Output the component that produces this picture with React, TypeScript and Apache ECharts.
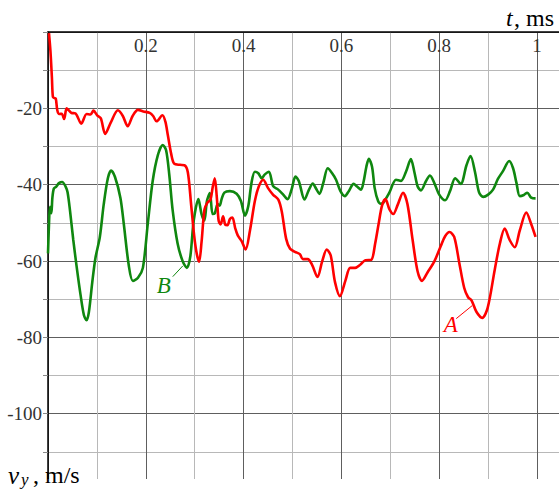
import { useEffect, useRef } from 'react';
import * as echarts from 'echarts';

const W = 559;
const H = 490;
const FONT = 'Liberation Serif, DejaVu Serif, serif';

// Curve A (red): time (ms) and v_y (m/s)
const tA = [0.002, 0.005, 0.008, 0.010, 0.013, 0.016, 0.019, 0.023, 0.028, 0.033, 0.038, 0.043, 0.048, 0.056, 0.068, 0.079, 0.087, 0.093, 0.101, 0.108, 0.117, 0.128, 0.143, 0.153, 0.163, 0.173, 0.184, 0.195, 0.208, 0.215, 0.222, 0.234, 0.240, 0.245, 0.252, 0.258, 0.270, 0.279, 0.286, 0.2925, 0.299, 0.304, 0.309, 0.314, 0.320, 0.326, 0.332, 0.337, 0.341, 0.345, 0.349, 0.353, 0.358, 0.3625, 0.367, 0.372, 0.377, 0.383, 0.388, 0.396, 0.404, 0.413, 0.423, 0.431, 0.440, 0.450, 0.460, 0.471, 0.478, 0.487, 0.495, 0.505, 0.515, 0.521, 0.531, 0.540, 0.551, 0.5606, 0.570, 0.578, 0.587, 0.597, 0.608, 0.618, 0.628, 0.639, 0.649, 0.661, 0.669, 0.676, 0.683, 0.690, 0.698, 0.706, 0.715, 0.726, 0.735, 0.7456, 0.7557, 0.7646, 0.776, 0.790, 0.8034, 0.812, 0.821, 0.8306, 0.841, 0.851, 0.859, 0.866, 0.876, 0.888, 0.899, 0.9136, 0.924, 0.934, 0.944, 0.9545, 0.9647, 0.978, 0.988, 0.997];
const vA = [-0.3, -5, -12, -17, -17.3, -17.5, -20.5, -21.5, -21.4, -22.8, -20.0, -20.6, -21.2, -21.3, -24.0, -21.5, -21.6, -20.6, -21.9, -22.6, -26.7, -23.8, -20.5, -22.0, -24.7, -22.0, -20.4, -20.8, -21.2, -22.0, -23.4, -21.8, -23.5, -27, -32, -34.5, -34.8, -34.9, -36.8, -45, -53.5, -58, -60.2, -55, -46.5, -44.7, -44, -40.5, -38.3, -43, -49.5, -50.4, -48.3, -50.5, -50.6, -49, -48.6, -51.5, -53.3, -54.8, -57, -52, -44.3, -40.5, -38.7, -40.9, -42.6, -43.9, -47, -54.2, -56.8, -57.6, -58.2, -59.5, -59.5, -61, -64.2, -60.1, -57, -58.5, -65.6, -69.2, -65.2, -61.8, -61.8, -60.9, -59.8, -59.7, -55.4, -50.3, -45.5, -43.8, -46.4, -47.7, -45.3, -42.1, -45.1, -54.5, -62.7, -65.2, -63, -60.1, -56, -53.5, -52.4, -53.7, -60.5, -67, -69.5, -70.3, -73.3, -74.9, -72.3, -62.2, -55.4, -51.5, -54.5, -56.4, -52, -47.3, -50.3, -53.7];

// Curve B (green)
const tB = [0.000, 0.002, 0.004, 0.0068, 0.009, 0.012, 0.017, 0.0225, 0.029, 0.036, 0.040, 0.045, 0.0517, 0.0585, 0.0667, 0.0735, 0.079, 0.0837, 0.0905, 0.097, 0.106, 0.114, 0.1224, 0.129, 0.137, 0.148, 0.155, 0.165, 0.1735, 0.184, 0.194, 0.204, 0.214, 0.2245, 0.2347, 0.2415, 0.248, 0.255, 0.265, 0.2755, 0.284, 0.291, 0.298, 0.3075, 0.314, 0.3197, 0.325, 0.331, 0.3365, 0.341, 0.347, 0.351, 0.355, 0.3606, 0.372, 0.3857, 0.3945, 0.4027, 0.4096, 0.416, 0.423, 0.430, 0.4367, 0.4435, 0.4517, 0.4605, 0.4707, 0.481, 0.4898, 0.498, 0.506, 0.513, 0.5245, 0.533, 0.5415, 0.548, 0.555, 0.563, 0.572, 0.581, 0.589, 0.598, 0.607, 0.615, 0.625, 0.632, 0.640, 0.6455, 0.651, 0.656, 0.6626, 0.668, 0.675, 0.6806, 0.6857, 0.698, 0.7116, 0.7218, 0.732, 0.742, 0.749, 0.7557, 0.7626, 0.7728, 0.781, 0.790, 0.800, 0.812, 0.822, 0.8327, 0.844, 0.8557, 0.864, 0.873, 0.8816, 0.890, 0.900, 0.910, 0.920, 0.9306, 0.943, 0.951, 0.958, 0.9647, 0.973, 0.980, 0.988, 0.997];
const vB = [-58, -50.5, -45.8, -47.5, -43.4, -41, -40.5, -39.6, -39.3, -40.5, -42, -46.8, -54.5, -61.4, -69, -74.2, -75.5, -73.3, -65.6, -59.2, -53.7, -45.1, -38.3, -36.3, -38, -43.4, -50.3, -61, -65.2, -64.4, -61.8, -50.3, -39.1, -32.3, -29.6, -31, -37.4, -46.8, -55.4, -60.1, -61.8, -58.8, -49.4, -43.8, -47.7, -49.4, -44.3, -42.2, -47.7, -47.5, -45.1, -45.5, -43.8, -42.1, -41.7, -42.4, -44.3, -48.1, -45.6, -39.6, -36.6, -37, -38.3, -37.3, -36.6, -40.4, -41.3, -42.6, -43.8, -41.3, -37.9, -39.1, -43.9, -41.5, -39.7, -41, -42.4, -39.5, -35.7, -37, -38.7, -41.7, -43, -41.7, -39.8, -40.5, -41.3, -39.1, -35.3, -33.2, -35.3, -40.9, -44.3, -45, -44.7, -42.1, -38.7, -39, -36.6, -33.3, -36.6, -40.4, -41.5, -39.1, -37.6, -39.6, -42.6, -44.1, -41.7, -38.3, -39.8, -34.9, -32.5, -36.6, -42.1, -43.2, -42.6, -41.3, -38.5, -36.4, -33.8, -35.7, -39.6, -43, -42.7, -42.1, -43.4, -43.6];

// Tick labels
const xLabelValues = [0.2, 0.4, 0.6, 0.8, 1];
const xLabelTexts = ['0.2', '0.4', '0.6', '0.8', '1'];
const yLabelValues = [-20, -40, -60, -80, -100];
const yLabelTexts = ['-20', '-40', '-60', '-80', '-100'];

// Annotation anchors (data space)
const labelA = { text: 'A', at: [0.8235, -76.7], lead: [[0.8347, -75.1], [0.8673, -71.7]] };
const labelB = { text: 'B', at: [0.2367, -66.4], lead: [[0.2551, -64.1], [0.2755, -61.3]] };

const zip = (t: number[], v: number[]) => t.map((x, i) => [x, v[i]]);

const findLabel = (vals: number[], texts: string[], value: number) => {
  const i = vals.findIndex((x) => Math.abs(x - value) < 1e-6);
  return i >= 0 ? texts[i] : '';
};

const RED = '#ff0000';
const GREEN = '#0f870f';
const MAJOR = '#5e5e5e';
const MINOR = '#b8b8b8';

function annotation(lbl: typeof labelA, color: string) {
  return {
    markLine: {
      silent: true,
      symbol: ['none', 'none'],
      label: { show: false },
      lineStyle: { color, width: 1, type: 'solid' },
      data: [[{ coord: lbl.lead[0] }, { coord: lbl.lead[1] }]],
    },
    markPoint: {
      silent: true,
      symbol: 'circle',
      symbolSize: 1,
      itemStyle: { color: 'rgba(0,0,0,0)' },
      data: [
        {
          coord: lbl.at,
          label: {
            show: true,
            position: 'inside',
            formatter: lbl.text,
            fontFamily: FONT,
            fontStyle: 'italic',
            fontSize: 23,
            color,
          },
        },
      ],
    },
  };
}

export default function App() {
  const ref = useRef<HTMLDivElement>(null);
  useEffect(() => {
    const chart = echarts.init(ref.current!, null, { renderer: 'svg', width: W, height: H });
    const option: any = {
      animation: false,
      backgroundColor: '#ffffff',
      textStyle: { fontFamily: FONT },
      grid: { left: 48, top: 32, width: 512, height: 468, containLabel: false },
      xAxis: {
        type: 'value',
        position: 'top',
        min: 0,
        max: 512 / 490,
        interval: 0.1,
        axisLine: { show: true, onZero: false, lineStyle: { color: '#000', width: 1.5 } },
        axisTick: { show: false },
        axisLabel: {
          inside: true,
          margin: 4,
          fontFamily: FONT,
          fontSize: 19,
          color: '#333',
          showMaxLabel: false,
          formatter: (v: number) => findLabel(xLabelValues, xLabelTexts, v),
        },
        splitLine: { show: true, showMaxLine: false, lineStyle: { color: [MAJOR, MINOR], width: 1 } },
      },
      yAxis: {
        type: 'value',
        min: -120,
        max: 0,
        interval: 10,
        axisLine: { show: true, onZero: false, lineStyle: { color: '#000', width: 1.5 } },
        axisTick: { show: true, length: 5, lineStyle: { color: '#888', width: 1 } },
        axisLabel: {
          margin: 6,
          fontFamily: FONT,
          fontSize: 19,
          color: '#333',
          formatter: (v: number) => findLabel(yLabelValues, yLabelTexts, v),
        },
        splitLine: { show: true, lineStyle: { color: [MAJOR, MINOR], width: 1 } },
      },
      series: [
        {
          name: 'B',
          type: 'line',
          data: zip(tB, vB),
          smooth: 0.3,
          showSymbol: false,
          color: GREEN,
          lineStyle: { color: GREEN, width: 2.6 },
          z: 3,
          ...annotation(labelB, GREEN),
        },
        {
          name: 'A',
          type: 'line',
          data: zip(tA, vA),
          smooth: 0.3,
          showSymbol: false,
          color: RED,
          lineStyle: { color: RED, width: 2.6 },
          z: 4,
          ...annotation(labelA, RED),
        },
      ],
      graphic: [
        {
          type: 'rect',
          z: 50,
          silent: true,
          shape: { x: 0, y: 479, width: W, height: H - 479 },
          style: { fill: '#ffffff' },
        },
        {
          type: 'text',
          z: 60,
          style: { text: 't', x: 506, y: 18, verticalAlign: 'middle', fontFamily: FONT, fontStyle: 'italic', fontSize: 24, fill: '#000' },
        },
        {
          type: 'text',
          z: 60,
          style: { text: ', ms', x: 514, y: 18, verticalAlign: 'middle', fontFamily: FONT, fontSize: 24, fill: '#000' },
        },
        {
          type: 'text',
          z: 60,
          style: { text: 'v', x: 8, y: 475, verticalAlign: 'middle', fontFamily: FONT, fontStyle: 'italic', fontSize: 25, fill: '#000' },
        },
        {
          type: 'text',
          z: 60,
          style: { text: 'y', x: 21, y: 479, verticalAlign: 'middle', fontFamily: FONT, fontStyle: 'italic', fontSize: 17, fill: '#000' },
        },
        {
          type: 'text',
          z: 60,
          style: { text: ', m/s', x: 33, y: 475, verticalAlign: 'middle', fontFamily: FONT, fontSize: 24, fill: '#000' },
        },
      ],
    };
    chart.setOption(option);
    return () => chart.dispose();
  }, []);
  return (
    <div
      ref={ref}
      style={{ position: 'fixed', left: 0, top: 0, width: W, height: H, background: '#fff' }}
    />
  );
}
